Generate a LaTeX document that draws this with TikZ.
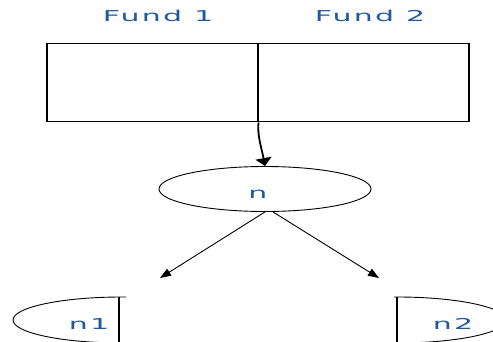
\documentclass[tikz,border=0pt]{standalone}
\usepackage{fontspec}
\newfontfamily\widefont[FakeStretch=2,LetterSpace=15]{DejaVu Sans}
\usetikzlibrary{arrows.meta,shapes.geometric}
\definecolor{fundblue}{RGB}{31,90,160}

\begin{document}
\begin{tikzpicture}[
  x=1pt, y=-1pt,
  lbl/.style={font=\widefont\fontsize{15}{18}\selectfont, text=fundblue, inner sep=0pt, anchor=base},
  fund/.style={rectangle, draw, line width=1.5pt, minimum width=211pt, minimum height=78pt, inner sep=0pt, anchor=north west},
  oval/.style={ellipse, draw, line width=0.9pt, inner sep=0pt},
  arr/.style={-{Triangle[width=16pt,length=8pt]}, line width=1.8pt},
  sarr/.style={-{Triangle[width=8pt,length=11pt]}, line width=0.9pt}
]
  \useasboundingbox (0,0) rectangle (493,342);

  % the two funds
  \node[fund] (F1) at (46,43) {};
  \node[fund] (F2) at (257,43) {};
  \node[lbl] (L1) at (158,22) {Fund 1};
  \node[lbl] (L2) at (370,22) {Fund 2};

  % node n
  \node[oval, minimum width=212pt, minimum height=45pt] (n) at (265,189) {};
  \node[lbl] (nt) at (258,199) {n};

  % cut-off children
  \begin{scope}
    \clip (0,290) rectangle (126,342);
    \node[oval, minimum width=218pt, minimum height=46pt] (n1) at (122,320) {};
  \end{scope}
  \begin{scope}
    \clip (394,290) rectangle (493,342);
    \node[oval, minimum width=218pt, minimum height=46pt] (n2) at (397,320) {};
  \end{scope}
  \draw[line width=1.5pt] (119,297) -- (119,342);
  \draw[line width=1.5pt] (397,297) -- (397,342);
  \node[lbl] (t1) at (89,329) {n1};
  \node[lbl] (t2) at (453,329) {n2};

  \coordinate (c1) at (160,278);
  \coordinate (c2) at (379,278);

  \draw[arr] (F1.south east) .. controls (257,135) and (262,150) .. (n.north);
  \draw[sarr] (n.south) -- (c1);
  \draw[sarr] ([xshift=8pt]n.south) -- (c2);
\end{tikzpicture}
\end{document}
